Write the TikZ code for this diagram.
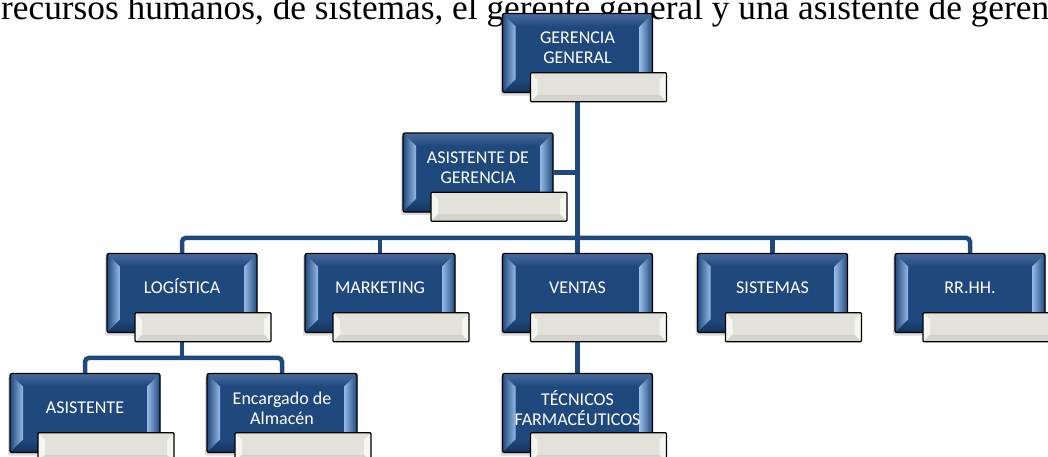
\documentclass[tikz,border=0pt]{standalone}
\usepackage{fontspec}
\setmainfont{Liberation Serif}
\newfontfamily\carlito{Carlito}
\usetikzlibrary{calc, shadows, backgrounds}
\definecolor{azul}{RGB}{31,73,125}
\definecolor{azuloscuro}{RGB}{20,50,92}
\definecolor{biselclaro}{RGB}{150,186,230}
\definecolor{biselsup}{RGB}{72,106,156}
\definecolor{gris}{RGB}{226,226,218}
\definecolor{grisclaro}{RGB}{245,245,241}
\definecolor{grisoscuro}{RGB}{212,212,204}

\begin{document}
\begin{tikzpicture}[x=1pt, y=-1pt,
  puesto/.style={draw=black, line width=1.3pt, fill=azul, rounded corners=2pt,
    minimum width=150pt, minimum height=79pt, inner sep=0pt,
    drop shadow={shadow xshift=-2pt, shadow yshift=-3pt, opacity=0.3},
    path picture={
      \path (path picture bounding box.north west) coordinate (nw)
            (path picture bounding box.north east) coordinate (ne)
            (path picture bounding box.south west) coordinate (sw)
            (path picture bounding box.south east) coordinate (se);
      \shade[sharp corners, top color=biselsup, bottom color=azul]
        (nw) -- (ne) -- ([shift={(-13,13)}]ne) -- ([shift={(13,13)}]nw) -- cycle;
      \shade[sharp corners, left color=azul, right color=biselclaro]
        (nw) -- ([shift={(13,13)}]nw) -- ([shift={(13,-13)}]sw) -- (sw) -- cycle;
      \shade[sharp corners, left color=biselclaro, right color=azul]
        (ne) -- ([shift={(-13,13)}]ne) -- ([shift={(-13,-13)}]se) -- (se) -- cycle;
      \shade[sharp corners, top color=azul, bottom color=azuloscuro]
        (sw) -- ([shift={(13,-13)}]sw) -- ([shift={(-13,-13)}]se) -- (se) -- cycle;
    }},
  placa/.style={draw=black, line width=1.3pt, fill=gris, rounded corners=1pt,
    minimum width=136pt, minimum height=29pt, inner sep=0pt, anchor=north west,
    path picture={
      \path (path picture bounding box.north west) coordinate (nw)
            (path picture bounding box.north east) coordinate (ne)
            (path picture bounding box.south west) coordinate (sw)
            (path picture bounding box.south east) coordinate (se);
      \fill[sharp corners, grisclaro]
        (nw) -- ([shift={(7,7)}]nw) -- ([shift={(7,-7)}]sw) -- (sw) -- cycle;
      \fill[sharp corners, grisclaro]
        (ne) -- ([shift={(-7,7)}]ne) -- ([shift={(-7,-7)}]se) -- (se) -- cycle;
      \fill[sharp corners, grisoscuro]
        (sw) -- ([shift={(7,-7)}]sw) -- ([shift={(-7,-7)}]se) -- (se) -- cycle;
    }},
  texto/.style={text=white, font=\carlito\fontsize{18}{20}\selectfont,
    align=center, yshift=5pt},
  linea/.style={texto, text height=11.6pt, text depth=0pt},
  enlace/.style={draw=azul, line width=4.5pt}]

  \useasboundingbox (0,0) rectangle (1048,456);
  \clip (0,0) rectangle (1048,456);

  \node[anchor=base west, inner sep=0pt, font=\fontsize{35.3}{40}\selectfont]
    (cabecera) at (1,19)
    {recursos humanos, de sistemas, el gerente general y una asistente de gerencia};

  % puestos
  \node[puesto, label={[texto]center:GERENCIA\\GENERAL}] (gg) at (577.5,53) {};
  \node[placa] (gg-p) at ([shift={(28,-21)}]gg.south west) {};

  \node[puesto, label={[texto]center:ASISTENTE DE\\GERENCIA}] (asg) at (478,172.5) {};
  \node[placa] (asg-p) at ([shift={(28,-21)}]asg.south west) {};

  \node[puesto, label={[linea]center:LOGÍSTICA}] (log) at (182,293) {};
  \node[placa] (log-p) at ([shift={(28,-21)}]log.south west) {};

  \node[puesto, label={[linea]center:MARKETING}] (mkt) at (380,293) {};
  \node[placa] (mkt-p) at ([shift={(28,-21)}]mkt.south west) {};

  \node[puesto, label={[linea]center:VENTAS}] (ven) at (577.5,293) {};
  \node[placa] (ven-p) at ([shift={(28,-21)}]ven.south west) {};

  \node[puesto, label={[linea]center:SISTEMAS}] (sis) at (772.5,293) {};
  \node[placa] (sis-p) at ([shift={(28,-21)}]sis.south west) {};

  \node[puesto, label={[linea]center:RR.HH.}] (rrhh) at (970,293) {};
  \node[placa] (rrhh-p) at ([shift={(28,-21)}]rrhh.south west) {};

  \node[puesto, label={[linea]center:ASISTENTE}] (asi) at (85,413) {};
  \node[placa] (asi-p) at ([shift={(28,-21)}]asi.south west) {};

  \node[puesto, label={[texto]center:Encargado de\\Almacén}] (alm) at (282,413) {};
  \node[placa] (alm-p) at ([shift={(28,-21)}]alm.south west) {};

  \node[puesto, label={[texto]center:TÉCNICOS\\FARMACÉUTICOS}] (tec) at (577.5,413) {};
  \node[placa] (tec-p) at ([shift={(28,-21)}]tec.south west) {};

  % enlaces
  \begin{scope}[on background layer]
    \draw[enlace] (gg.south) -- (ven.north);
    \draw[enlace] (asg.east) -- (asg.east -| gg.south);
    \draw[enlace, rounded corners=4pt] (log.north) -- ++(0,-15) -| (rrhh.north);
    \draw[enlace] (mkt.north) -- ++(0,-15);
    \draw[enlace] (sis.north) -- ++(0,-15);
    \draw[enlace] (log.south) -- ++(0,25);
    \draw[enlace, rounded corners=4pt] (asi.north) -- ++(0,-15) -| (alm.north);
    \draw[enlace] (ven.south) -- (tec.north);
  \end{scope}
\end{tikzpicture}
\end{document}
